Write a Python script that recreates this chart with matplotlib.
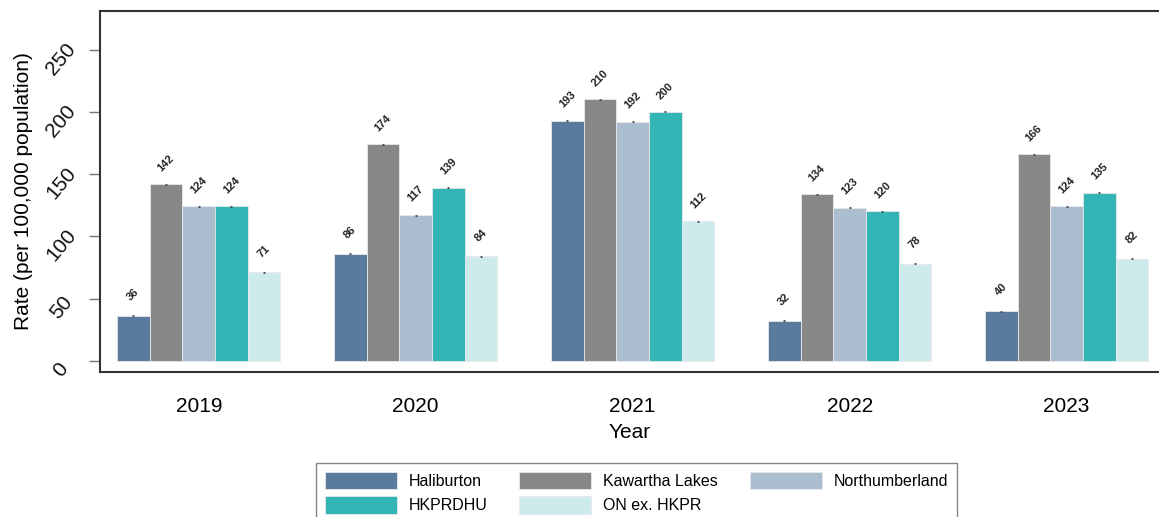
import matplotlib.pyplot as plt
import matplotlib.transforms as mtransforms
import numpy as np

plt.rcParams['font.family'] = ['Liberation Sans', 'DejaVu Sans']

years = ['2019', '2020', '2021', '2022', '2023']
series = ['Haliburton', 'Kawartha Lakes', 'Northumberland', 'HKPRDHU', 'ON ex. HKPR']
colors = ['#5b7b9e', '#888888', '#adbdd0', '#33b5b5', '#cdebed']

haliburton = [36, 86, 193, 32, 40]
kawartha = [142, 174, 210, 134, 166]
northumberland = [124, 117, 192, 123, 124]
hkprdhu = [124, 139, 200, 120, 135]
on_ex = [71, 84, 112, 78, 82]
values = [haliburton, kawartha, northumberland, hkprdhu, on_ex]
yticks = [0, 50, 100, 150, 200, 250]

fig = plt.figure(figsize=(11.59, 5.17), dpi=100)
ax = fig.add_axes([0.0863, 0.2805, 0.9137, 0.698])

stride = 6.636
handles = []
for j, (name, vals, c) in enumerate(zip(series, values, colors)):
    xs = np.arange(len(years)) * stride + j + 0.5
    b = ax.bar(xs, vals, width=1.0, color=c, edgecolor='#e8e8e8', linewidth=0.6, label=name)
    handles.append(b)
    ax.errorbar(xs, vals, yerr=0.4, fmt='none', ecolor='#444444', elinewidth=0.6, capsize=1.0,
                capthick=0.6)
    for x, v in zip(xs, vals):
        ax.text(x, v + 17, str(v), rotation=45, ha='center', va='center',
                fontsize=8, fontweight='bold', color='#222222')

ax.set_xlim(-0.52, 31.87)
ax.set_ylim(-9, 281)

# y ticks: marks from the axis, labels drawn rotated and a bit below each tick
ax.set_yticks(yticks)
ax.set_yticklabels([''] * len(yticks))
ax.tick_params(axis='y', length=8, width=1, color='#777777')
trans = mtransforms.blended_transform_factory(ax.transAxes, ax.transData) + \
    mtransforms.ScaledTranslation(0, -9 / 100, fig.dpi_scale_trans)
for t in yticks:
    ax.text(-39 / 1059, t, str(t), transform=trans, rotation=50, ha='center', va='center',
            fontsize=15, color='#111111')

ax.set_xticks(np.arange(len(years)) * stride + 2.5)
ax.set_xticklabels(years)
ax.tick_params(axis='x', length=0, labelsize=15, pad=18)
ax.set_xlabel('Year', fontsize=15, labelpad=5)
ax.set_ylabel('Rate (per 100,000 population)', fontsize=15)
ax.yaxis.set_label_coords(-0.063, 0.5)

ax.spines['right'].set_visible(False)
for s in ['left', 'top', 'bottom']:
    ax.spines[s].set_color('#333333')
    ax.spines[s].set_linewidth(1.5)

order = [0, 3, 1, 4, 2]
leg = ax.legend([handles[i] for i in order], [series[i] for i in order],
                ncol=3, loc='upper left', bbox_to_anchor=(0.2726, 0.1044),
                bbox_transform=fig.transFigure, fontsize=11.5, frameon=True,
                fancybox=False, edgecolor='#666666', handlelength=4.5,
                handleheight=1.3, columnspacing=2.0, handletextpad=0.75,
                borderpad=0.55, labelspacing=0.45, borderaxespad=0)
leg.get_frame().set_linewidth(1.0)

fig.savefig('out.png', dpi=100)
